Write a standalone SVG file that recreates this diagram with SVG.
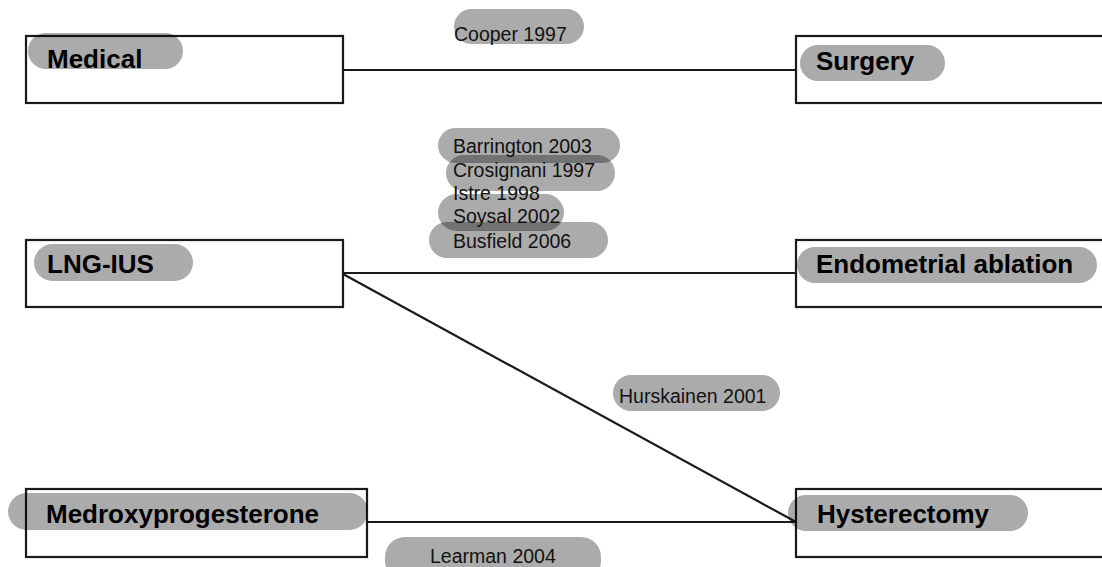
<svg xmlns="http://www.w3.org/2000/svg" width="1102" height="567" viewBox="0 0 1102 567">
<style>
.box{fill:#fff;stroke:#1a1a1a;stroke-width:2.2}
.pill{fill:#000;fill-opacity:0.33}
.lbl{font-family:"Liberation Sans",Arial,sans-serif;font-weight:bold;font-size:26px;fill:#000}
.cit{font-family:"Liberation Sans",Arial,sans-serif;font-size:19.5px;fill:#111}
.edge{stroke:#1a1a1a;stroke-width:2.2;fill:none}
</style>
<rect width="1102" height="567" fill="#fff"/>
<g id="connectors">
<line class="edge" x1="343" y1="70" x2="796" y2="70"/>
<line class="edge" x1="343" y1="273" x2="796" y2="273"/>
<line class="edge" x1="343" y1="274" x2="796" y2="522"/>
<line class="edge" x1="367" y1="522" x2="796" y2="522"/>
</g>
<g id="medical">
<rect class="box" x="26" y="36" width="317" height="67"/>
<rect class="pill" x="28" y="33" width="155" height="36" rx="18"/>
<text class="lbl" x="47" y="68">Medical</text>
</g>
<g id="surgery">
<rect class="box" x="796" y="36" width="310" height="67"/>
<rect class="pill" x="800" y="45" width="145" height="36" rx="18"/>
<text class="lbl" x="816" y="70">Surgery</text>
</g>
<g id="lng-ius">
<rect class="box" x="26" y="240" width="317" height="67"/>
<rect class="pill" x="34" y="244" width="159" height="37" rx="18.5"/>
<text class="lbl" x="47" y="273">LNG-IUS</text>
</g>
<g id="endometrial-ablation">
<rect class="box" x="796" y="240" width="310" height="67"/>
<rect class="pill" x="797" y="247" width="300" height="36" rx="18"/>
<text class="lbl" x="816" y="273">Endometrial ablation</text>
</g>
<g id="medroxyprogesterone">
<rect class="box" x="26" y="489" width="341" height="68"/>
<rect class="pill" x="8" y="493" width="360" height="37" rx="18.5"/>
<text class="lbl" x="46" y="523">Medroxyprogesterone</text>
</g>
<g id="hysterectomy">
<rect class="box" x="796" y="489" width="310" height="68"/>
<rect class="pill" x="788" y="495" width="240" height="36" rx="18"/>
<text class="lbl" x="817" y="523">Hysterectomy</text>
</g>
<g id="citations">
<g id="cooper-1997">
<rect class="pill" x="454" y="9" width="130" height="35" rx="17.5"/>
<text class="cit" x="454" y="41">Cooper 1997</text>
</g>
<g id="lng-ablation-studies">
<rect class="pill" x="438" y="128" width="182" height="35" rx="17.5"/>
<rect class="pill" x="446" y="155" width="169" height="36" rx="18"/>
<rect class="pill" x="438" y="194" width="126" height="37" rx="18.5"/>
<rect class="pill" x="429" y="222" width="179" height="36" rx="18"/>
<text class="cit" x="453" y="153">Barrington 2003</text>
<text class="cit" x="453" y="177">Crosignani 1997</text>
<text class="cit" x="453" y="200">Istre 1998</text>
<text class="cit" x="453" y="223">Soysal 2002</text>
<text class="cit" x="453" y="248">Busfield 2006</text>
</g>
<g id="hurskainen-2001">
<rect class="pill" x="613" y="375" width="167" height="36" rx="18"/>
<text class="cit" x="619" y="403">Hurskainen 2001</text>
</g>
<g id="learman-2004">
<rect class="pill" x="385" y="537" width="216" height="44" rx="20"/>
<text class="cit" x="430" y="563">Learman 2004</text>
</g>
</g>
</svg>
